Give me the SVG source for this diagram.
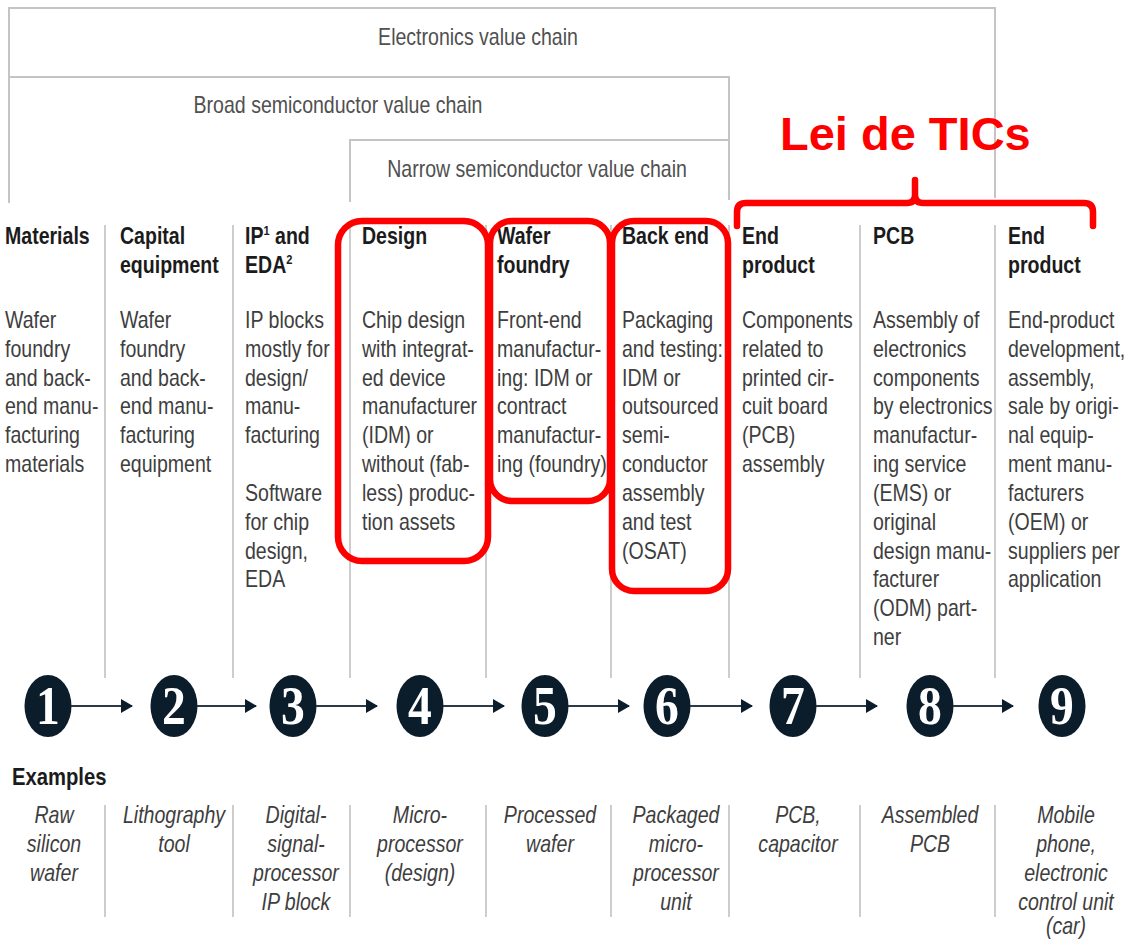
<svg xmlns="http://www.w3.org/2000/svg" width="1131" height="940" viewBox="0 0 1131 940">
<defs>
<style>
text{font-family:"Liberation Sans",Arial,sans-serif;font-size:23px}
.hd{font-weight:bold;fill:#1b1b1b}
.bd{fill:#3e3e3e}
.ex{fill:#3e3e3e;font-style:italic;text-anchor:middle}
.tt{fill:#505050;text-anchor:middle}
.frame{fill:none;stroke:#c4c4c4;stroke-width:2}
.div{stroke:#cdcdcd;stroke-width:2}
.red{fill:none;stroke:#ff0000;stroke-width:6.5}
.circ{fill:#0b1c2b}
.num{font-family:"Liberation Serif","Times New Roman",serif;font-size:56px;font-weight:bold;fill:#ffffff;text-anchor:middle}
.arr{stroke:#2b3a45;stroke-width:2.2;fill:none}
</style>
<marker id="ah" viewBox="0 0 12 14" refX="11" refY="7" markerWidth="12" markerHeight="14" markerUnits="userSpaceOnUse" orient="auto">
<path d="M0,0 L12,7 L0,14 Z" fill="#0b1c2b"/>
</marker>
</defs>
<rect width="1131" height="940" fill="#ffffff"/>

<g id="frames">
<path class="frame" d="M9,203 V8 H995 V198"/>
<path class="frame" d="M9,77 H729 V200"/>
<path class="frame" d="M350,202 V140 H729"/>
<g transform="translate(478,45) scale(0.85,1)"><text class="tt" x="0" y="0">Electronics value chain</text></g>
<g transform="translate(338,113) scale(0.85,1)"><text class="tt" x="0" y="0">Broad semiconductor value chain</text></g>
<g transform="translate(537,177) scale(0.85,1)"><text class="tt" x="0" y="0">Narrow semiconductor value chain</text></g>
</g>

<g id="dividers">
<path class="div" d="M105,225 V678 M233,225 V678 M350,225 V678 M486,225 V678 M611,225 V678 M729,225 V678 M860,225 V678 M995,225 V678"/>
<path class="div" d="M105,805 V917 M233,805 V917 M350,805 V917 M486,805 V917 M611,805 V917 M729,805 V917 M860,805 V917 M995,805 V917"/>
</g>

<g id="node-1">
<g transform="translate(5,0) scale(0.85,1)">
<text class="hd"><tspan x="0" y="244">Materials</tspan></text>
<text class="bd"><tspan x="0" y="328">Wafer</tspan><tspan x="0" y="357">foundry</tspan><tspan x="0" y="386">and back-</tspan><tspan x="0" y="414">end manu-</tspan><tspan x="0" y="443">facturing</tspan><tspan x="0" y="472">materials</tspan></text>
</g>
<ellipse class="circ" cx="48" cy="706" rx="23.5" ry="31"/>
<g transform="translate(48,724) scale(0.85,1)"><text class="num" x="0" y="0">1</text></g>
<g transform="translate(54,0) scale(0.85,1)"><text class="ex"><tspan x="0" y="823">Raw</tspan><tspan x="0" y="852">silicon</tspan><tspan x="0" y="881">wafer</tspan></text></g>
</g>

<g id="node-2">
<g transform="translate(120,0) scale(0.85,1)">
<text class="hd"><tspan x="0" y="244">Capital</tspan><tspan x="0" y="273">equipment</tspan></text>
<text class="bd"><tspan x="0" y="328">Wafer</tspan><tspan x="0" y="357">foundry</tspan><tspan x="0" y="386">and back-</tspan><tspan x="0" y="414">end manu-</tspan><tspan x="0" y="443">facturing</tspan><tspan x="0" y="472">equipment</tspan></text>
</g>
<ellipse class="circ" cx="174" cy="706" rx="23.5" ry="31"/>
<g transform="translate(174,724) scale(0.85,1)"><text class="num" x="0" y="0">2</text></g>
<g transform="translate(174,0) scale(0.85,1)"><text class="ex"><tspan x="0" y="823">Lithography</tspan><tspan x="0" y="852">tool</tspan></text></g>
</g>

<g id="node-3">
<g transform="translate(245,0) scale(0.85,1)">
<text class="hd"><tspan x="0" y="244">IP</tspan><tspan dy="-9" font-size="13">1</tspan><tspan dy="9"> and</tspan><tspan x="0" y="273">EDA</tspan><tspan dy="-9" font-size="13">2</tspan></text>
<text class="bd"><tspan x="0" y="328">IP blocks</tspan><tspan x="0" y="357">mostly for</tspan><tspan x="0" y="386">design/</tspan><tspan x="0" y="414">manu-</tspan><tspan x="0" y="443">facturing</tspan><tspan x="0" y="501">Software</tspan><tspan x="0" y="530">for chip</tspan><tspan x="0" y="559">design,</tspan><tspan x="0" y="587">EDA</tspan></text>
</g>
<ellipse class="circ" cx="293" cy="706" rx="23.5" ry="31"/>
<g transform="translate(293,724) scale(0.85,1)"><text class="num" x="0" y="0">3</text></g>
<g transform="translate(296,0) scale(0.85,1)"><text class="ex"><tspan x="0" y="823">Digital-</tspan><tspan x="0" y="852">signal-</tspan><tspan x="0" y="881">processor</tspan><tspan x="0" y="910">IP block</tspan></text></g>
</g>

<g id="node-4">
<g transform="translate(362,0) scale(0.85,1)">
<text class="hd"><tspan x="0" y="244">Design</tspan></text>
<text class="bd"><tspan x="0" y="328">Chip design</tspan><tspan x="0" y="357">with integrat-</tspan><tspan x="0" y="386">ed device</tspan><tspan x="0" y="414">manufacturer</tspan><tspan x="0" y="443">(IDM) or</tspan><tspan x="0" y="472">without (fab-</tspan><tspan x="0" y="501">less) produc-</tspan><tspan x="0" y="530">tion assets</tspan></text>
</g>
<ellipse class="circ" cx="420" cy="706" rx="23.5" ry="31"/>
<g transform="translate(420,724) scale(0.85,1)"><text class="num" x="0" y="0">4</text></g>
<g transform="translate(420,0) scale(0.85,1)"><text class="ex"><tspan x="0" y="823">Micro-</tspan><tspan x="0" y="852">processor</tspan><tspan x="0" y="881">(design)</tspan></text></g>
</g>

<g id="node-5">
<g transform="translate(497,0) scale(0.85,1)">
<text class="hd"><tspan x="0" y="244">Wafer</tspan><tspan x="0" y="273">foundry</tspan></text>
<text class="bd"><tspan x="0" y="328">Front-end</tspan><tspan x="0" y="357">manufactur-</tspan><tspan x="0" y="386">ing: IDM or</tspan><tspan x="0" y="414">contract</tspan><tspan x="0" y="443">manufactur-</tspan><tspan x="0" y="472">ing (foundry)</tspan></text>
</g>
<ellipse class="circ" cx="545" cy="706" rx="23.5" ry="31"/>
<g transform="translate(545,724) scale(0.85,1)"><text class="num" x="0" y="0">5</text></g>
<g transform="translate(550,0) scale(0.85,1)"><text class="ex"><tspan x="0" y="823">Processed</tspan><tspan x="0" y="852">wafer</tspan></text></g>
</g>

<g id="node-6">
<g transform="translate(622,0) scale(0.85,1)">
<text class="hd"><tspan x="0" y="244">Back end</tspan></text>
<text class="bd"><tspan x="0" y="328">Packaging</tspan><tspan x="0" y="357">and testing:</tspan><tspan x="0" y="386">IDM or</tspan><tspan x="0" y="414">outsourced</tspan><tspan x="0" y="443">semi-</tspan><tspan x="0" y="472">conductor</tspan><tspan x="0" y="501">assembly</tspan><tspan x="0" y="530">and test</tspan><tspan x="0" y="559">(OSAT)</tspan></text>
</g>
<ellipse class="circ" cx="667" cy="706" rx="23.5" ry="31"/>
<g transform="translate(667,724) scale(0.85,1)"><text class="num" x="0" y="0">6</text></g>
<g transform="translate(676,0) scale(0.85,1)"><text class="ex"><tspan x="0" y="823">Packaged</tspan><tspan x="0" y="852">micro-</tspan><tspan x="0" y="881">processor</tspan><tspan x="0" y="910">unit</tspan></text></g>
</g>

<g id="node-7">
<g transform="translate(742,0) scale(0.85,1)">
<text class="hd"><tspan x="0" y="244">End</tspan><tspan x="0" y="273">product</tspan></text>
<text class="bd"><tspan x="0" y="328">Components</tspan><tspan x="0" y="357">related to</tspan><tspan x="0" y="386">printed cir-</tspan><tspan x="0" y="414">cuit board</tspan><tspan x="0" y="443">(PCB)</tspan><tspan x="0" y="472">assembly</tspan></text>
</g>
<ellipse class="circ" cx="793" cy="706" rx="23.5" ry="31"/>
<g transform="translate(793,724) scale(0.85,1)"><text class="num" x="0" y="0">7</text></g>
<g transform="translate(798,0) scale(0.85,1)"><text class="ex"><tspan x="0" y="823">PCB,</tspan><tspan x="0" y="852">capacitor</tspan></text></g>
</g>

<g id="node-8">
<g transform="translate(873,0) scale(0.85,1)">
<text class="hd"><tspan x="0" y="244">PCB</tspan></text>
<text class="bd"><tspan x="0" y="328">Assembly of</tspan><tspan x="0" y="357">electronics</tspan><tspan x="0" y="386">components</tspan><tspan x="0" y="414">by electronics</tspan><tspan x="0" y="443">manufactur-</tspan><tspan x="0" y="472">ing service</tspan><tspan x="0" y="501">(EMS) or</tspan><tspan x="0" y="530">original</tspan><tspan x="0" y="559">design manu-</tspan><tspan x="0" y="587">facturer</tspan><tspan x="0" y="616">(ODM) part-</tspan><tspan x="0" y="645">ner</tspan></text>
</g>
<ellipse class="circ" cx="930" cy="706" rx="23.5" ry="31"/>
<g transform="translate(930,724) scale(0.85,1)"><text class="num" x="0" y="0">8</text></g>
<g transform="translate(930,0) scale(0.85,1)"><text class="ex"><tspan x="0" y="823">Assembled</tspan><tspan x="0" y="852">PCB</tspan></text></g>
</g>

<g id="node-9">
<g transform="translate(1008,0) scale(0.85,1)">
<text class="hd"><tspan x="0" y="244">End</tspan><tspan x="0" y="273">product</tspan></text>
<text class="bd"><tspan x="0" y="328">End-product</tspan><tspan x="0" y="357">development,</tspan><tspan x="0" y="386">assembly,</tspan><tspan x="0" y="414">sale by origi-</tspan><tspan x="0" y="443">nal equip-</tspan><tspan x="0" y="472">ment manu-</tspan><tspan x="0" y="501">facturers</tspan><tspan x="0" y="530">(OEM) or</tspan><tspan x="0" y="559">suppliers per</tspan><tspan x="0" y="587">application</tspan></text>
</g>
<ellipse class="circ" cx="1062" cy="706" rx="23.5" ry="31"/>
<g transform="translate(1062,724) scale(0.85,1)"><text class="num" x="0" y="0">9</text></g>
<g transform="translate(1066,0) scale(0.85,1)"><text class="ex"><tspan x="0" y="823">Mobile</tspan><tspan x="0" y="852">phone,</tspan><tspan x="0" y="881">electronic</tspan><tspan x="0" y="910">control unit</tspan><tspan x="0" y="934">(car)</tspan></text></g>
</g>

<g id="examples-label">
<g transform="translate(12,785) scale(0.88,1)"><text class="hd" x="0" y="0">Examples</text></g>
</g>

<g id="connectors">
<line class="arr" x1="71" y1="706" x2="132" y2="706" marker-end="url(#ah)"/>
<line class="arr" x1="197" y1="706" x2="256" y2="706" marker-end="url(#ah)"/>
<line class="arr" x1="316" y1="706" x2="377" y2="706" marker-end="url(#ah)"/>
<line class="arr" x1="443" y1="706" x2="504" y2="706" marker-end="url(#ah)"/>
<line class="arr" x1="568" y1="706" x2="629" y2="706" marker-end="url(#ah)"/>
<line class="arr" x1="690" y1="706" x2="752" y2="706" marker-end="url(#ah)"/>
<line class="arr" x1="816" y1="706" x2="877" y2="706" marker-end="url(#ah)"/>
<line class="arr" x1="953" y1="706" x2="1013" y2="706" marker-end="url(#ah)"/>
</g>

<g id="highlights">
<rect class="red" x="338" y="221" width="150" height="340" rx="24"/>
<rect class="red" x="490" y="221" width="120" height="280" rx="22"/>
<rect class="red" x="612" y="221" width="116" height="370" rx="22"/>
<path class="red" stroke-linejoin="round" d="M737,226 V212 Q737,203 746,203 H907 Q915,203 915,195 V180 M915,195 Q915,203 923,203 H1084 Q1093,203 1093,212 V226" stroke-linecap="round"/>
<text x="780" y="150" font-weight="bold" fill="#ff0000" style="font-size:47px">Lei de TICs</text>
</g>
</svg>
